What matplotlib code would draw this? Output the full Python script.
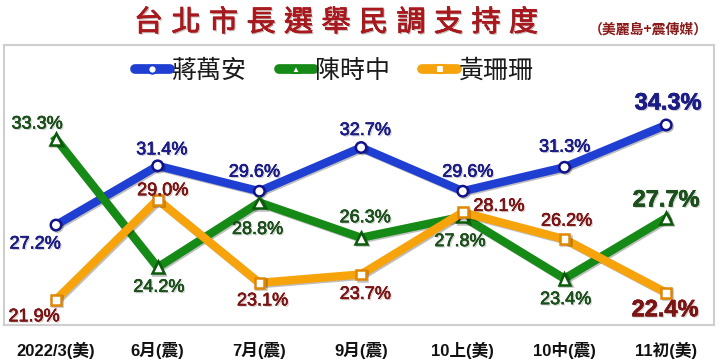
import matplotlib
matplotlib.use("Agg")
import matplotlib.pyplot as plt
from matplotlib.lines import Line2D
import matplotlib.patheffects as pe

plt.rcParams['font.family'] = ['Liberation Sans', 'Noto Sans CJK TC', 'DejaVu Sans']

TITLE = "台北市長選舉民調支持度"
SOURCE = "（美麗島+震傳媒）"
periods = ["2022/3(美)", "6月(震)", "7月(震)", "9月(震)", "10上(美)", "10中(震)", "11初(美)"]
names = ["蔣萬安", "陳時中", "黃珊珊"]
chiang = [27.2, 31.4, 29.6, 32.7, 29.6, 31.3, 34.3]
chen = [33.3, 24.2, 28.8, 26.3, 27.8, 23.4, 27.7]
huang = [21.9, 29.0, 23.1, 23.7, 28.1, 26.2, 22.4]

# label offsets from each point, pixels
off_chiang = [(-21, -19), (4, 16), (-5, 19), (4, 17), (5, 19), (0, 20), (2, 22)]
off_chen = [(-19, 15), (1, -20), (-2, -27), (4, 20), (-3, -25), (1, -21), (0, 18)]
off_huang = [(-22, -17), (5, 9), (3, -18), (4, -20), (36, 6), (2, 18), (-1, -17)]

series = [
    (chiang, "#1f3fd2", "#12128c", "o", 7.5, "#1c1c86", off_chiang),
    (chen, "#168a16", "#0b5a0b", "^", 8.5, "#1b4f1b", off_chen),
    (huang, "#f7a30c", "#e08600", "s", 7, "#7d1414", off_huang),
]

fig = plt.figure(figsize=(7.2, 3.63), dpi=100)
fig.patch.set_facecolor("white")
ax = fig.add_axes([4 / 720, 38 / 363, 710 / 720, 280 / 363])
ax.set_xlim(-0.511, 6.47)
ax.set_ylim(20.11, 39.97)

x = list(range(len(periods)))
for vals, lc, mec, mk, ms, tc, offs in series:
    ax.plot(x, vals, color=lc, lw=6, marker=mk, ms=ms, mfc="white", mec=mec, mew=1.8,
            path_effects=[pe.SimpleLineShadow(offset=(1, -1), alpha=0.25), pe.Normal()])
    for i, v in enumerate(vals):
        last = i == len(vals) - 1
        ax.annotate(f"{v:.1f}%", (i, v), xytext=offs[i], textcoords="offset pixels",
                    ha="center", va="center", color=tc,
                    fontsize=17 if last else 13, fontweight="bold" if last else "normal",
                    family="Liberation Sans",
                    path_effects=[pe.withSimplePatchShadow(offset=(1, -1), alpha=0.2),
                                  pe.withStroke(linewidth=0.4, foreground=tc)])

ax.set_xticks(x)
ax.set_xticklabels(periods, fontsize=12, fontweight="bold", color="#111111")
ax.tick_params(axis="x", length=0, pad=12)
ax.set_yticks([])
for s in ax.spines.values():
    s.set_color("#cfcfcf")
    s.set_linewidth(1.5)

handles = [Line2D([], [], color=lc, lw=7, marker=mk, ms=6, mfc="white", mec=lc,
                  mew=1.5, solid_capstyle="round")
           for _, lc, _, mk, _, _, _ in series]
ax.legend(handles, names, loc="center", bbox_to_anchor=(0.465, 0.907), ncol=3,
          frameon=False, prop={"family": "Noto Sans CJK TC", "size": 18},
          handlelength=1.4, handletextpad=0.05, columnspacing=1.3, labelcolor="#1a1a1a")

# title, spaced character by character
for i, ch in enumerate(TITLE):
    fig.text((148.5 + i * 37.5) / 720, 1 - 23 / 363, ch, ha="center", va="center",
             fontsize=21, color="#a8181c", family="Noto Sans CJK TC",
             path_effects=[pe.withSimplePatchShadow(offset=(1, -1), alpha=0.3),
                           pe.withStroke(linewidth=0.5, foreground="#a8181c")])
fig.text(648 / 720, 1 - 30 / 363, SOURCE, ha="center", va="center", fontsize=10,
         fontweight="bold", color="#8b1a1a", family="Noto Sans CJK TC")

fig.savefig("out.png", dpi=100, facecolor="white")
